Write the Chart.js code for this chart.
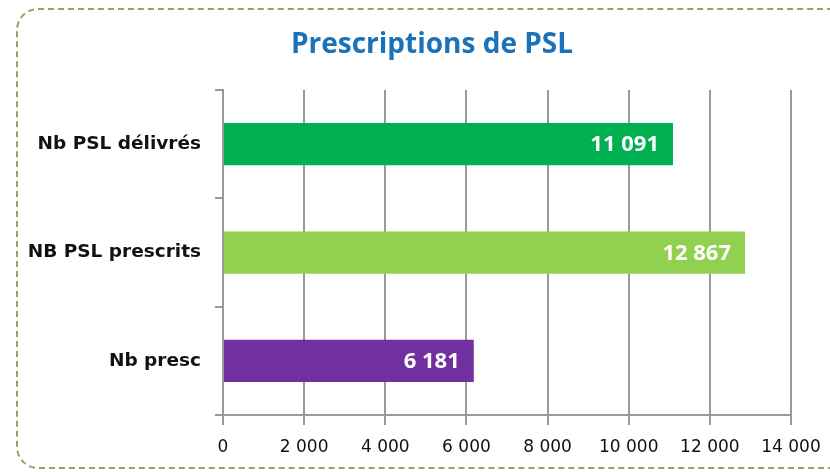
<!DOCTYPE html>
<html>
<head>
<meta charset="utf-8">
<script src="https://cdn.jsdelivr.net/npm/chart.js@4/dist/chart.umd.min.js"></script>
<style>
  html, body { margin: 0; padding: 0; background: #fff; }
  #wrap { position: relative; width: 830px; height: 472px; overflow: hidden; }
  #frame {
    position: absolute; left: 16px; top: 8px; width: 840px; height: 461px;
    border: 2px dashed #a39a64; border-radius: 22px; box-sizing: border-box;
  }
  #chart { position: absolute; left: 0; top: 0; }
</style>
</head>
<body>
<div id="wrap">
  <div id="frame"></div>
  <canvas id="chart" width="830" height="472"></canvas>
</div>
<script>
// data
const chartTitle = 'Prescriptions de PSL';
const categories = ['Nb PSL délivrés', 'NB PSL prescrits', 'Nb presc'];
const values = [11091, 12867, 6181];
const barColors = ['#00b050', '#92d050', '#7030a0'];
const xTicks = [0, 2000, 4000, 6000, 8000, 10000, 12000, 14000];

const fmt = v => v.toLocaleString('fr-FR').replace(/\s/g, ' ');

// title drawn over the whole frame, not only the plot area
const titleText = {
    id: 'titleText',
    afterDraw(chart) {
        const ctx = chart.ctx;
        ctx.save();
        ctx.fillStyle = '#1b72b8';
        ctx.font = 'bold 28px "Liberation Sans Narrow", "Open Sans", sans-serif';
        ctx.textAlign = 'center';
        ctx.textBaseline = 'middle';
        ctx.fillText(chartTitle, 432, 45);
        ctx.restore();
    }
};

// white value labels at the end of each bar
const valueLabels = {
    id: 'valueLabels',
    afterDatasetsDraw(chart) {
        const ctx = chart.ctx;
        const meta = chart.getDatasetMeta(0);
        ctx.save();
        ctx.fillStyle = '#fff';
        ctx.font = 'bold 22px "Liberation Sans Narrow", "Open Sans", sans-serif';
        ctx.textAlign = 'right';
        ctx.textBaseline = 'middle';
        meta.data.forEach((bar, i) => {
            ctx.fillText(fmt(values[i]), bar.x - 14, bar.y + 1);
        });
        ctx.restore();
    }
};

new Chart(document.getElementById('chart'), {
    type: 'bar',
    data: {
        labels: categories,
        datasets: [{
            data: values,
            backgroundColor: barColors,
            barPercentage: 0.39,
            categoryPercentage: 1
        }]
    },
    options: {
        indexAxis: 'y',
        responsive: false,
        animation: false,
        layout: { padding: { left: 0, right: 39, top: 90, bottom: 16 } },
        plugins: {
            legend: { display: false },
            tooltip: { enabled: false }
        },
        scales: {
            x: {
                min: 0,
                max: 14000,
                afterBuildTicks: scale => { scale.ticks = xTicks.map(v => ({ value: v })); },
                afterFit: scale => { scale.height = 41; scale.paddingRight = 0; scale.paddingLeft = 0; },
                ticks: {
                    color: '#111',
                    font: { family: '"DejaVu Sans", sans-serif', size: 17 },
                    padding: 12,
                    callback: v => fmt(v)
                },
                grid: { color: '#9a9a9a', lineWidth: 2, tickLength: 10 },
                border: { color: '#9a9a9a', width: 2 }
            },
            y: {
                afterFit: scale => { scale.width = 223; },
                ticks: {
                    color: '#111',
                    font: { family: '"DejaVu Sans", sans-serif', size: 18.5, weight: 'bold' },
                    padding: 14
                },
                grid: { drawOnChartArea: false, color: '#9a9a9a', lineWidth: 2, tickLength: 8, offset: true },
                border: { color: '#9a9a9a', width: 2 }
            }
        }
    },
    plugins: [titleText, valueLabels]
});
</script>
</body>
</html>
